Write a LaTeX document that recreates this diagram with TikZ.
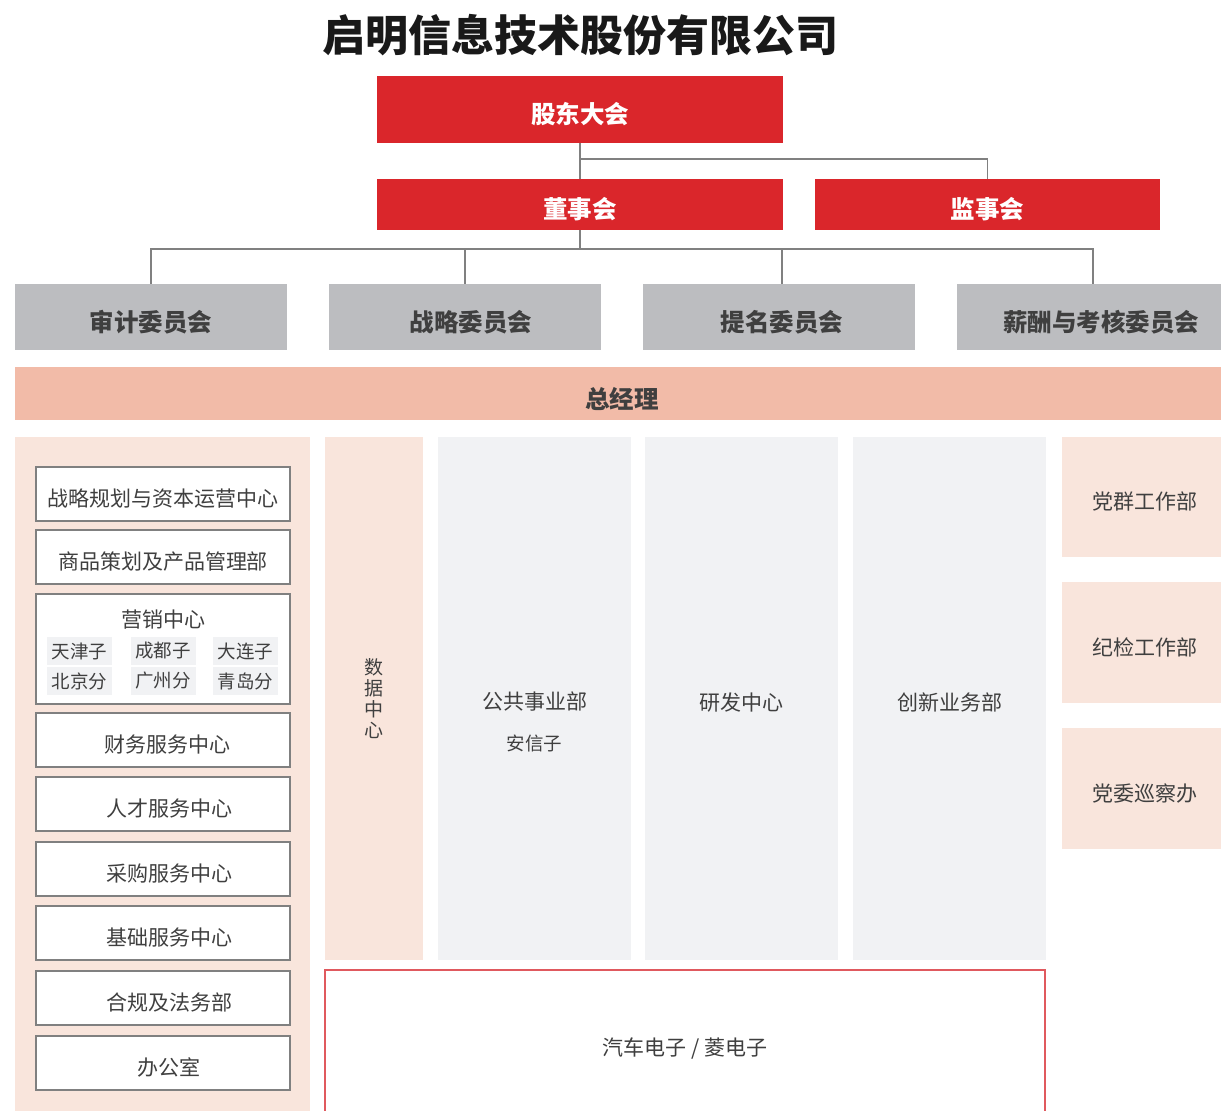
\documentclass[tikz,border=0pt]{standalone}
\usepackage{fontspec}
\usepackage{tikz}
\setmainfont{Noto Sans CJK SC}

\definecolor{qmred}{HTML}{DA262B}
\definecolor{qmgrey}{HTML}{BCBDC0}
\definecolor{qmsalmon}{HTML}{F2BBA8}
\definecolor{qmpink}{HTML}{F9E5DC}
\definecolor{qmlight}{HTML}{F1F2F4}
\definecolor{qmline}{HTML}{808080}
\definecolor{qmframe}{HTML}{E0595E}
\definecolor{qmtext}{HTML}{3F3F3F}

\begin{document}
\begin{tikzpicture} [x=1pt, y=-1pt,
  low/.style={text height=#1, text depth=0pt},
  redbox/.style={fill=qmred, text=white, font=\fontsize{24.5}{27}\selectfont\bfseries, low=27pt, minimum width=406pt, inner sep=0pt},
  greybox/.style={fill=qmgrey, text=qmtext, font=\fontsize{24.5}{27}\selectfont\bfseries, low=28pt, minimum width=272pt, minimum height=66pt, inner sep=0pt},
  deptbox/.style={draw=qmline, line width=1.5pt, fill=white, text=qmtext, font=\fontsize{21}{24}\selectfont, low=25pt, minimum width=254pt, minimum height=54pt, inner sep=0pt},
  subbox/.style={fill=qmlight, text=qmtext, font=\fontsize{18.5}{22}\selectfont, minimum width=65pt, minimum height=28pt, inner sep=0pt},
  unitbox/.style={fill=qmlight, text=qmtext, font=\fontsize{21}{24}\selectfont, low=24pt, minimum width=193pt, minimum height=523pt, inner sep=0pt},
  partybox/.style={fill=qmpink, text=qmtext, font=\fontsize{21}{24}\selectfont, low=25pt, minimum width=159pt, inner sep=0pt},
  link/.style={draw=qmline, line width=1.5pt}]

\useasboundingbox (0,0) rectangle (1221,1111);

% title
\node [font=\fontsize{43}{47}\selectfont\bfseries, text=black!90] (title) at (580,35) {启明信息技术股份有限公司};

% shareholders, board, supervisors
\node [redbox, minimum height=67pt] (gd) at (580,109.5) {股东大会};
\node [redbox, minimum height=51pt] (ds) at (580,204.5) {董事会};
\node [redbox, minimum width=345pt, minimum height=51pt] (js) at (987.5,204.5) {监事会};

% committees
\node [greybox] (sj) at (151,317) {审计委员会};
\node [greybox] (zl) at (465,317) {\hspace*{12pt}战略委员会};
\node [greybox] (tm) at (779,317) {\hspace*{6pt}提名委员会};
\node [greybox] (xc) at (1093,317) {\hspace*{16pt}薪酬与考核委员会};

\coordinate (gdj) at (580,159);
\coordinate (dsj) at (580,249);

\draw [link] (gd.south) -- (ds.north);
\draw [link] (gdj) -| (js.north);
\draw [link] (ds.south) -- (dsj);
\draw [link] (dsj) -| (sj.north);
\draw [link] (dsj) -| (zl.north);
\draw [link] (dsj) -| ([xshift=3pt]tm.north);
\draw [link] (dsj) -| (xc.north);

% general manager
\node [fill=qmsalmon, text=qmtext, font=\fontsize{24.5}{27}\selectfont\bfseries, low=30pt, minimum width=1206pt, minimum height=53pt, inner sep=0pt] (zjl) at (618,393.5) {\hspace*{8pt}总经理};

% left panel
\fill [qmpink] (15,437) rectangle (310,1115);

\foreach \y/\t/\n in {494/战略规划与资本运营中心/bm1, 557/商品策划及产品管理部/bm2, 740/{\hspace*{8pt}财务服务中心}/bm4, 804/{\hspace*{12pt}人才服务中心}/bm5, 869/{\hspace*{12pt}采购服务中心}/bm6, 933/{\hspace*{12pt}基础服务中心}/bm7, 998/{\hspace*{12pt}合规及法务部}/bm8, 1063/{\hspace*{12pt}办公室}/bm9}
  \node [deptbox] (\n) at (163,\y) {\t};

\node [deptbox, minimum height=110pt] (bm3) at (163,649) {};
\node [text=qmtext, font=\fontsize{21}{24}\selectfont, inner sep=0pt] (yx) at (163,620) {营销中心};
\node [subbox] (tj) at (79.5,651) {天津子};
\node [subbox] (cd) at (163,651) {成都子};
\node [subbox] (dl) at (245.5,651) {大连子};
\node [subbox] (bj) at (79.5,681) {北京分};
\node [subbox] (gz) at (163,681) {广州分};
\node [subbox] (qd) at (245.5,681) {青岛分};

% data centre
\node [fill=qmpink, text=qmtext, font=\fontsize{19}{21}\selectfont, align=center, minimum width=98pt, minimum height=523pt, inner sep=0pt] (sjzx) at (374,698.5) {数\\据\\中\\心};

% business units
\node [unitbox] (gg) at (534.5,698.5) {};
\node [text=qmtext, font=\fontsize{21}{24}\selectfont, inner sep=0pt] (ggt) at (534.5,702) {公共事业部};
\node [text=qmtext, font=\fontsize{18.5}{22}\selectfont, inner sep=0pt] (axz) at (534.5,743) {安信子};
\node [unitbox] (yf) at (741.5,698.5) {研发中心};
\node [unitbox] (cx) at (949.5,698.5) {创新业务部};

\node [draw=qmframe, line width=1.5pt, fill=white, text=qmtext, font=\fontsize{21}{24}\selectfont, low=26pt, minimum width=720pt, minimum height=145pt, inner sep=0pt] (qc) at (685,1042.5) {汽车电子 / 菱电子};

% party offices
\node [partybox, minimum height=120pt] (dq) at (1141.5,497) {\hspace*{6pt}党群工作部};
\node [partybox, minimum height=121pt] (jj) at (1141.5,642.5) {\hspace*{6pt}纪检工作部};
\node [partybox, minimum height=121pt] (xcb) at (1141.5,788.5) {\hspace*{6pt}党委巡察办};

\end{tikzpicture}
\end{document}
